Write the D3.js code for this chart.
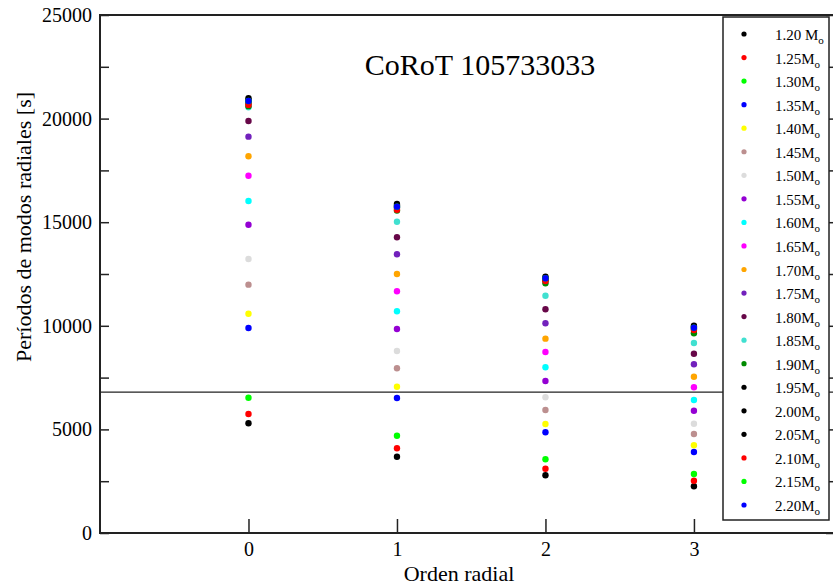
<!DOCTYPE html>
<html>
<head>
<meta charset="utf-8">
<script src="https://cdn.jsdelivr.net/npm/d3@7"></script>
<style>
  body { margin: 0; background: #fff; }
  svg text { font-family: "Liberation Serif", "DejaVu Serif", serif; fill: #000; }
</style>
</head>
<body>
<div id="chart"></div>
<script>
var width = 833, height = 586;
var serif = "'Liberation Serif', 'DejaVu Serif', serif";

// masses of the models (legend) and their colours
var masses = ["1.20 M", "1.25M", "1.30M", "1.35M", "1.40M", "1.45M", "1.50M", "1.55M",
              "1.60M", "1.65M", "1.70M", "1.75M", "1.80M", "1.85M", "1.90M", "1.95M",
              "2.00M", "2.05M", "2.10M", "2.15M", "2.20M"];
var colors = ["#000000", "#ff0000", "#00ff00", "#0000ff", "#ffff00", "#bc8f8f", "#dcdcdc", "#9400d3",
              "#00ffff", "#ff00ff", "#ffa500", "#7221bc", "#670748", "#40e0d0", "#008b00", "#000000",
              "#000000", "#000000", "#ff0000", "#00ff00", "#0000ff"];

// radial order and period of each mass model [s]
var orders = [0, 1, 2, 3];
var period0 = [5294, 5743, 6530, 9894, 10585, 11985, 13224, 14880, 16023, 17245, 18180,
               19128, 19884, 20545, 20600, 20750, 20900, 20990, 20660, 20850, 20850];
var period1 = [3683, 4088, 4696, 6515, 7061, 7948, 8784, 9845, 10700, 11665, 12500,
               13450, 14271, 15024, 15560, 15700, 15800, 15880, 15600, 15750, 15750];
var period2 = [2785, 3103, 3557, 4860, 5261, 5936, 6549, 7336, 7997, 8736, 9379,
               10120, 10796, 11453, 12051, 12200, 12300, 12370, 12162, 12292, 12292];
var period3 = [2254, 2524, 2847, 3909, 4233, 4778, 5275, 5903, 6419, 7032, 7544,
               8142, 8654, 9170, 9638, 9850, 9950, 10005, 9797, 9908, 9908];
var periods = [period0, period1, period2, period3];

var yTicks = [0, 5000, 10000, 15000, 20000, 25000];
var yMinor = [2500, 7500, 12500, 17500, 22500];
var refLine = 6800;

var margin = {left:100, right:835, top:15, bottom:533};

var x = d3.scaleLinear().domain([-1, 3.95]).range([margin.left, margin.right]);
var y = d3.scaleLinear().domain([0, 25000]).range([margin.bottom, margin.top]);

var svg = d3.select("#chart").append("svg")
    .attr("width", width).attr("height", height);

// reference horizontal line
svg.append("line")
    .attr("x1", x(-1)).attr("x2", x(3.95))
    .attr("y1", y(refLine)).attr("y2", y(refLine))
    .attr("stroke", "#222").attr("stroke-width", 1.2);

// points
var pts = [];
orders.forEach(function(n, j) {
  periods[j].forEach(function(p, i) { pts.push({n:n, p:p, c:colors[i]}); });
});
svg.append("g").selectAll("circle").data(pts).enter().append("circle")
    .attr("cx", function(d){ return x(d.n); })
    .attr("cy", function(d){ return y(d.p); })
    .attr("r", 3.2)
    .attr("fill", function(d){ return d.c; });

// axes
var yAxis = d3.axisLeft(y).tickValues(yTicks).tickFormat(d3.format("d"))
    .tickSizeInner(-9).tickSizeOuter(0).tickPadding(8);
var gy = svg.append("g").attr("transform", "translate(" + margin.left + ",0)").call(yAxis)
    .attr("font-family", serif).attr("font-size", 20);

svg.append("g").attr("transform", "translate(" + margin.left + ",0)")
    .call(d3.axisLeft(y).tickValues(yMinor).tickSizeInner(-9).tickSizeOuter(0).tickFormat(""));

var xAxis = d3.axisBottom(x).tickValues(orders).tickFormat(d3.format("d"))
    .tickSizeInner(-14).tickSizeOuter(0).tickPadding(9);
var gx = svg.append("g").attr("transform", "translate(0," + margin.bottom + ")").call(xAxis)
    .attr("font-family", serif).attr("font-size", 20);

// right axis ticks
svg.append("g").attr("transform", "translate(" + margin.right + ",0)")
    .call(d3.axisRight(y).tickValues(yTicks.concat(yMinor)).tickSizeInner(-9).tickSizeOuter(0).tickFormat(""));

svg.selectAll(".domain").remove();
svg.selectAll(".tick line").attr("stroke", "#222").attr("stroke-width", 1.5);

// frame
svg.append("rect")
    .attr("x", margin.left).attr("y", margin.top)
    .attr("width", margin.right - margin.left).attr("height", margin.bottom - margin.top)
    .attr("fill", "none").attr("stroke", "#222").attr("stroke-width", 2);

// title and labels
svg.append("text").attr("x", 480).attr("y", 75).attr("text-anchor", "middle")
    .attr("font-family", serif).attr("font-size", 30).text("CoRoT 105733033");

svg.append("text").attr("x", 459).attr("y", 580.5).attr("text-anchor", "middle")
    .attr("font-family", serif).attr("font-size", 22).text("Orden radial");

svg.append("text").attr("transform", "translate(31,227) rotate(-90)").attr("text-anchor", "middle")
    .attr("font-family", serif).attr("font-size", 22).text("Períodos de modos radiales [s]");

// legend
var leg = svg.append("g");
leg.append("rect").attr("x", 723).attr("y", 17).attr("width", 106).attr("height", 503)
    .attr("fill", "#fff").attr("stroke", "#222").attr("stroke-width", 1.5);
var items = leg.selectAll(".item").data(masses).enter().append("g")
    .attr("transform", function(d, i){ return "translate(0," + (34 + i * 23.55) + ")"; });
items.append("circle").attr("cx", 744).attr("cy", 0).attr("r", 2.6)
    .attr("fill", function(d, i){ return colors[i]; });
var t = items.append("text").attr("x", 775).attr("y", 6)
    .attr("font-family", serif).attr("font-size", 15);
t.append("tspan").text(function(d){ return d; });
t.append("tspan").attr("dy", 4).attr("font-size", 11).text("o");
</script>
</body>
</html>
